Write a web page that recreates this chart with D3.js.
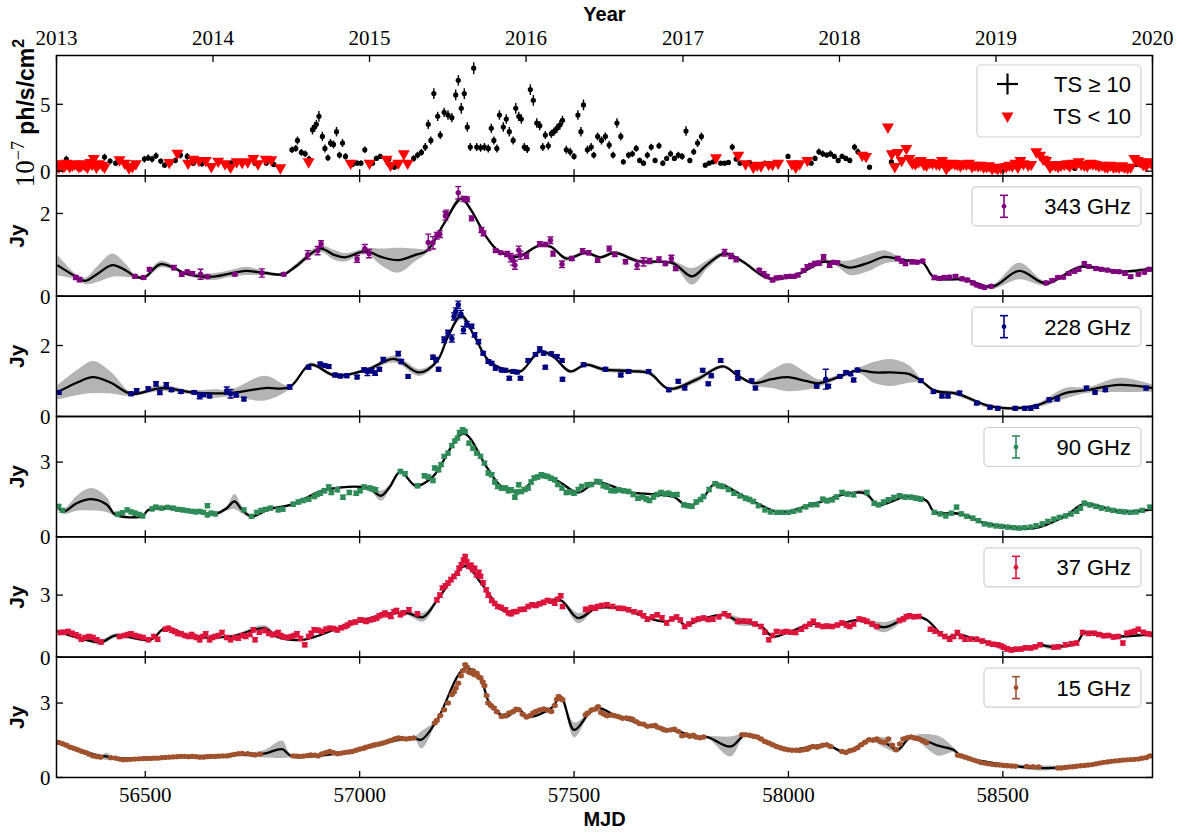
<!DOCTYPE html>
<html>
<head>
<meta charset="utf-8">
<script src="https://cdn.jsdelivr.net/npm/d3@7"></script>
<style>
  body { margin: 0; background: #fff; }
  svg { display: block; }
</style>
</head>
<body>
<div id="chart"></div>
<script>
// ---- tick values ----
const years = [2013, 2014, 2015, 2016, 2017, 2018, 2019, 2020];
const yearMJD = [56293, 56658, 57023, 57388, 57754, 58119, 58484, 58849];
const mjdTicks = [56500, 57000, 57500, 58000, 58500];

// ---- Fermi-LAT: detections [mjd, flux, err] and upper limits [mjd, flux] ----
const fermiDet = [[56316,0.9,0.25],[56405,1.05,0.25],[56418,0.75,0.2],[56431,0.6,0.2],[56498,0.9,0.25],[56507,1.0,0.25],[56516,0.9,0.25],[56525,1.15,0.25],[56536,0.75,0.2],[56545,0.45,0.2],[56558,0.6,0.2],[56570,0.8,0.2],[56582,1.2,0.25],[56598,1.1,0.25],[56612,0.6,0.2],[56632,0.55,0.2],[56700,0.6,0.2],[56756,0.6,0.2],[56782,0.6,0.2],[56800,0.5,0.2],[56842,1.6,0.25],[56851,1.7,0.25],[56855,2.3,0.3],[56864,1.4,0.25],[56873,1.3,0.25],[56882,0.9,0.25],[56890,3.1,0.35],[56895,3.3,0.35],[56899,3.5,0.35],[56905,4.1,0.4],[56913,2.6,0.35],[56919,1.7,0.3],[56926,1.0,0.25],[56932,2.1,0.3],[56939,2.0,0.3],[56946,2.95,0.35],[56953,1.2,0.25],[56960,2.1,0.3],[56967,1.1,0.25],[56983,0.5,0.2],[56994,0.6,0.2],[57003,0.6,0.2],[57012,1.6,0.25],[57030,0.6,0.2],[57039,0.95,0.2],[57048,1.1,0.2],[57068,0.9,0.2],[57081,0.3,0.2],[57126,0.95,0.25],[57135,1.2,0.25],[57144,1.4,0.25],[57153,1.8,0.3],[57160,3.5,0.35],[57166,2.3,0.3],[57173,5.8,0.4],[57182,4.1,0.35],[57188,2.7,0.3],[57197,4.4,0.35],[57206,4.2,0.35],[57215,4.0,0.35],[57224,5.7,0.4],[57230,6.8,0.4],[57237,4.7,0.4],[57244,5.8,0.4],[57251,3.3,0.35],[57258,1.8,0.3],[57266,7.7,0.45],[57273,1.8,0.3],[57282,1.75,0.3],[57291,1.8,0.3],[57300,1.7,0.3],[57307,3.2,0.35],[57313,2.3,0.3],[57320,1.7,0.3],[57326,4.2,0.35],[57335,3.3,0.35],[57342,3.9,0.35],[57349,2.95,0.35],[57358,2.3,0.3],[57364,4.7,0.4],[57371,4.1,0.35],[57377,3.9,0.35],[57384,1.8,0.3],[57391,1.65,0.3],[57398,6.1,0.4],[57405,5.3,0.4],[57413,3.6,0.35],[57420,3.4,0.35],[57427,1.8,0.3],[57433,2.7,0.3],[57440,1.9,0.3],[57447,2.8,0.3],[57453,2.95,0.3],[57460,3.2,0.35],[57467,3.45,0.35],[57473,3.8,0.35],[57482,1.6,0.3],[57491,1.45,0.3],[57500,1.1,0.25],[57509,4.2,0.35],[57516,2.95,0.35],[57522,4.95,0.4],[57531,1.6,0.3],[57540,1.8,0.3],[57546,1.2,0.25],[57555,2.6,0.3],[57564,2.3,0.3],[57573,2.6,0.3],[57582,1.95,0.3],[57591,1.2,0.25],[57600,3.6,0.35],[57609,2.6,0.3],[57615,0.7,0.2],[57627,1.2,0.25],[57636,1.3,0.25],[57645,1.7,0.25],[57653,0.8,0.2],[57662,0.6,0.2],[57671,1.2,0.25],[57680,1.8,0.25],[57689,0.8,0.2],[57698,1.9,0.25],[57707,0.6,0.2],[57716,0.95,0.2],[57725,1.3,0.25],[57734,0.95,0.2],[57743,1.2,0.25],[57752,1.1,0.25],[57761,3.0,0.35],[57770,0.8,0.2],[57779,1.45,0.25],[57788,2.1,0.3],[57797,2.6,0.3],[57806,0.45,0.15],[57815,0.6,0.15],[57824,0.7,0.15],[57842,0.6,0.15],[57851,0.6,0.15],[57860,0.65,0.15],[57869,1.8,0.25],[57878,0.9,0.2],[57887,0.6,0.15],[57909,0.65,0.15],[57945,0.6,0.15],[57999,1.1,0.2],[58053,0.6,0.15],[58062,0.95,0.2],[58071,1.45,0.25],[58080,1.3,0.25],[58089,1.2,0.2],[58098,1.3,0.25],[58107,1.1,0.2],[58116,0.8,0.2],[58125,1.1,0.2],[58134,0.95,0.2],[58143,0.8,0.2],[58154,1.8,0.25],[58162,1.45,0.25],[58189,0.3,0.15],[58240,0.7,0.2],[58602,0.6,0.15],[58668,0.2,0.1],[58812,0.5,0.15],[58843,0.5,0.15]];
const fermiUL = [[56298,0.3],[56301,0.45],[56305,0.55],[56308,0.35],[56312,0.4],[56316,0.6],[56320,0.5],[56324,0.35],[56330,0.45],[56335,0.55],[56340,0.5],[56345,0.35],[56350,0.4],[56355,0.55],[56360,0.45],[56365,0.3],[56372,0.65],[56376,0.5],[56380,0.95],[56386,0.3],[56392,0.55],[56400,0.45],[56405,0.3],[56440,0.85],[56452,0.6],[56462,0.25],[56470,0.35],[56478,0.55],[56556,0.65],[56575,1.35],[56600,0.6],[56612,0.9],[56625,0.8],[56641,0.8],[56654,0.35],[56670,0.75],[56686,0.55],[56699,0.3],[56713,0.7],[56726,0.65],[56739,0.7],[56752,0.95],[56763,0.55],[56781,0.9],[56794,0.85],[56815,0.25],[56881,0.7],[56979,0.6],[57023,0.6],[57063,0.9],[57072,0.45],[57090,0.6],[57103,1.3],[57112,0.6],[57831,1.0],[57883,1.2],[57900,0.55],[57918,0.3],[57927,0.45],[57936,0.4],[57954,0.5],[57963,0.5],[57976,0.6],[58008,0.55],[58017,0.3],[58026,0.55],[58044,0.8],[58172,1.2],[58181,1.1],[58232,3.3],[58241,1.3],[58248,0.35],[58255,1.4],[58264,0.8],[58275,1.7],[58282,0.95],[58289,0.6],[58296,0.55],[58303,0.7],[58309,0.8],[58316,0.5],[58322,0.45],[58329,0.65],[58336,0.6],[58345,0.55],[58352,0.5],[58358,0.8],[58362,0.6],[58368,0.2],[58375,0.45],[58381,0.6],[58388,0.55],[58394,0.5],[58401,0.4],[58408,0.55],[58415,0.5],[58421,0.6],[58428,0.35],[58435,0.45],[58442,0.4],[58448,0.45],[58455,0.3],[58462,0.35],[58468,0.4],[58475,0.2],[58482,0.3],[58488,0.2],[58495,0.25],[58502,0.3],[58508,0.35],[58515,0.45],[58522,0.4],[58529,0.6],[58535,0.3],[58541,0.8],[58548,0.55],[58559,0.45],[58566,0.5],[58578,1.45],[58587,1.2],[58594,0.9],[58601,0.8],[58610,0.3],[58616,0.5],[58622,0.45],[58629,0.35],[58636,0.45],[58643,0.5],[58650,0.55],[58656,0.4],[58663,0.6],[58670,0.55],[58677,0.7],[58683,0.5],[58690,0.45],[58697,0.4],[58704,0.6],[58710,0.55],[58717,0.5],[58724,0.4],[58731,0.45],[58738,0.35],[58744,0.3],[58751,0.45],[58758,0.3],[58764,0.35],[58771,0.3],[58778,0.4],[58784,0.3],[58791,0.25],[58798,0.3],[58807,0.95],[58814,0.8],[58820,0.7],[58827,0.5],[58834,0.4],[58840,0.7],[58846,0.6]];

// ---- radio light curves [mjd, Jy, err] ----
const pts343 = [[56338,0.45,0.05],[56347,0.4,0.05],[56476,0.48,0.04],[56496,0.45,0.04],[56510,0.65,0.04],[56567,0.69,0.05],[56585,0.53,0.05],[56598,0.59,0.04],[56610,0.55,0.04],[56629,0.53,0.12],[56645,0.47,0.04],[56709,0.53,0.04],[56772,0.56,0.1],[56823,0.53,0.04],[56879,1.0,0.1],[56902,1.1,0.1],[56910,1.26,0.08],[56994,0.9,0.08],[57012,1.15,0.1],[57022,1.03,0.1],[57160,1.3,0.2],[57171,1.29,0.15],[57180,1.46,0.08],[57187,1.5,0.08],[57200,1.94,0.1],[57202,2.0,0.08],[57230,2.5,0.15],[57244,2.35,0.06],[57251,2.34,0.06],[57261,1.88,0.06],[57284,1.6,0.06],[57289,1.52,0.06],[57317,1.1,0.04],[57329,1.05,0.04],[57344,1.02,0.06],[57352,0.93,0.1],[57358,0.87,0.12],[57362,0.75,0.1],[57371,1.11,0.1],[57375,0.99,0.1],[57389,0.97,0.06],[57420,1.26,0.06],[57433,1.25,0.05],[57445,1.35,0.08],[57451,1.03,0.06],[57472,0.77,0.08],[57495,0.91,0.05],[57520,1.09,0.06],[57534,1.05,0.05],[57555,0.87,0.05],[57582,1.15,0.06],[57595,1.01,0.05],[57620,0.83,0.05],[57647,0.75,0.1],[57662,0.83,0.1],[57676,0.85,0.06],[57698,0.89,0.06],[57713,0.79,0.05],[57727,0.91,0.08],[57737,0.67,0.05],[57851,1.05,0.08],[57866,0.97,0.06],[57878,0.89,0.06],[57932,0.63,0.04],[57942,0.55,0.04],[57950,0.48,0.04],[57963,0.39,0.04],[57972,0.44,0.04],[57981,0.45,0.04],[57995,0.47,0.04],[58004,0.48,0.04],[58013,0.48,0.04],[58022,0.51,0.04],[58035,0.62,0.04],[58044,0.71,0.05],[58053,0.74,0.05],[58062,0.79,0.05],[58072,0.8,0.05],[58082,0.94,0.06],[58096,0.75,0.05],[58105,0.82,0.04],[58114,0.81,0.04],[58255,0.91,0.05],[58264,0.85,0.05],[58273,0.79,0.05],[58288,0.83,0.05],[58300,0.82,0.04],[58313,0.85,0.04],[58340,0.45,0.05],[58352,0.43,0.04],[58363,0.45,0.04],[58376,0.46,0.04],[58390,0.48,0.04],[58405,0.42,0.04],[58417,0.39,0.04],[58430,0.32,0.04],[58439,0.27,0.04],[58448,0.24,0.04],[58457,0.21,0.04],[58473,0.24,0.04],[58601,0.32,0.04],[58615,0.38,0.04],[58628,0.45,0.04],[58641,0.46,0.04],[58654,0.55,0.04],[58667,0.6,0.04],[58677,0.65,0.04],[58690,0.79,0.04],[58700,0.72,0.04],[58717,0.67,0.04],[58730,0.65,0.04],[58744,0.63,0.04],[58758,0.6,0.04],[58771,0.59,0.04],[58785,0.55,0.04],[58798,0.47,0.04],[58816,0.53,0.04],[58830,0.58,0.04],[58841,0.65,0.04]];
const pts228 = [[56299,0.68,0.05],[56467,0.64,0.05],[56480,0.73,0.05],[56507,0.78,0.05],[56525,0.92,0.06],[56534,0.68,0.06],[56549,0.89,0.06],[56561,0.75,0.05],[56583,0.7,0.05],[56614,0.68,0.05],[56627,0.58,0.08],[56636,0.61,0.05],[56650,0.58,0.05],[56690,0.73,0.1],[56699,0.64,0.12],[56712,0.61,0.06],[56730,0.49,0.05],[56837,0.83,0.06],[56881,1.39,0.05],[56908,1.48,0.05],[56918,1.44,0.05],[56928,1.41,0.05],[56943,1.17,0.05],[56955,1.14,0.05],[56970,1.15,0.05],[56994,1.11,0.05],[57010,1.31,0.06],[57018,1.25,0.1],[57028,1.29,0.06],[57036,1.22,0.06],[57046,1.33,0.05],[57055,1.6,0.06],[57090,1.77,0.06],[57097,1.55,0.06],[57113,1.13,0.05],[57171,1.67,0.06],[57178,1.6,0.06],[57184,1.33,0.05],[57197,2.16,0.08],[57206,2.35,0.08],[57215,2.2,0.1],[57220,2.82,0.1],[57224,2.96,0.1],[57230,3.15,0.1],[57236,2.89,0.1],[57242,2.44,0.1],[57250,2.6,0.08],[57261,2.54,0.06],[57268,2.3,0.06],[57277,2.11,0.06],[57288,1.78,0.05],[57300,1.55,0.05],[57308,1.5,0.05],[57317,1.36,0.05],[57331,1.31,0.05],[57340,1.3,0.05],[57349,1.08,0.05],[57358,1.27,0.05],[57367,1.25,0.05],[57375,1.08,0.05],[57393,1.58,0.05],[57410,1.75,0.05],[57420,1.9,0.06],[57429,1.78,0.05],[57433,1.39,0.05],[57447,1.77,0.05],[57460,1.69,0.05],[57472,1.58,0.05],[57473,1.05,0.05],[57522,1.46,0.05],[57573,1.33,0.05],[57609,1.17,0.05],[57627,1.27,0.05],[57674,1.27,0.05],[57721,0.75,0.05],[57743,0.99,0.05],[57758,0.8,0.05],[57800,1.3,0.05],[57813,0.92,0.05],[57820,1.15,0.05],[57842,1.58,0.05],[57881,1.24,0.05],[57882,1.08,0.05],[57914,1.01,0.05],[57923,0.8,0.05],[58066,0.85,0.05],[58087,1.05,0.28],[58093,0.85,0.05],[58120,1.13,0.05],[58134,1.24,0.05],[58145,1.2,0.05],[58152,1.03,0.05],[58161,1.31,0.05],[58309,1.01,0.05],[58338,0.7,0.05],[58358,0.58,0.05],[58372,0.58,0.05],[58399,0.66,0.05],[58439,0.38,0.05],[58470,0.26,0.05],[58488,0.23,0.05],[58529,0.23,0.05],[58551,0.23,0.05],[58565,0.23,0.05],[58578,0.28,0.05],[58608,0.47,0.05],[58627,0.49,0.05],[58695,0.8,0.05],[58715,0.68,0.05],[58739,0.75,0.05],[58834,0.8,0.05]];
// dense series share one typical error bar
const err90 = 0.08, err37 = 0.1, err15 = 0.04;
const pts90 = [[56298,1.22],[56307,1.06],[56436,0.91],[56447,0.97],[56458,1.08],[56467,1.0],[56476,0.95],[56485,0.9],[56494,0.84],[56516,1.12],[56525,1.19],[56538,1.15],[56552,1.18],[56565,1.15],[56576,1.1],[56587,1.08],[56598,1.05],[56610,1.02],[56618,1.0],[56627,1.02],[56636,0.98],[56645,1.25],[56645,0.88],[56654,0.95],[56663,0.92],[56730,1.08],[56748,0.82],[56760,0.98],[56770,1.06],[56781,1.1],[56792,1.15],[56810,1.08],[56821,1.11],[56845,1.31],[56857,1.4],[56868,1.46],[56881,1.51],[56894,1.62],[56900,1.7],[56908,1.75],[56918,1.85],[56928,2.0],[56934,1.78],[56948,1.89],[56961,1.59],[56976,1.78],[56992,1.75],[57001,1.85],[57010,2.0],[57023,1.96],[57030,1.92],[57037,1.89],[57095,2.62],[57106,2.53],[57135,2.05],[57151,2.45],[57160,2.4],[57171,2.26],[57175,2.76],[57184,2.69],[57190,2.9],[57197,3.23],[57206,3.36],[57215,3.66],[57222,3.85],[57228,3.96],[57233,4.19],[57240,4.3],[57246,4.23],[57255,3.76],[57264,3.56],[57273,3.36],[57282,3.23],[57291,2.96],[57300,2.56],[57308,2.49],[57315,2.2],[57322,2.02],[57331,1.95],[57340,1.96],[57347,1.85],[57353,1.89],[57362,1.59],[57366,1.8],[57371,2.09],[57377,1.82],[57385,1.9],[57393,1.96],[57400,2.2],[57407,2.36],[57415,2.4],[57424,2.49],[57430,2.45],[57438,2.42],[57446,2.35],[57455,2.29],[57462,2.1],[57472,1.96],[57482,1.78],[57491,1.8],[57500,1.75],[57510,1.9],[57518,2.02],[57531,2.09],[57540,2.1],[57553,2.22],[57560,2.2],[57568,2.05],[57577,2.0],[57586,1.86],[57595,1.85],[57604,1.89],[57615,1.85],[57627,1.82],[57638,1.7],[57649,1.55],[57660,1.6],[57668,1.52],[57676,1.46],[57685,1.6],[57694,1.7],[57703,1.78],[57712,1.72],[57720,1.75],[57730,1.69],[57740,1.7],[57756,1.29],[57766,1.25],[57775,1.22],[57785,1.4],[57795,1.5],[57802,1.62],[57815,1.9],[57829,2.13],[57838,2.05],[57847,2.02],[57860,1.9],[57873,1.75],[57887,1.65],[57900,1.55],[57909,1.5],[57918,1.42],[57930,1.25],[57945,1.08],[57958,1.0],[57972,0.98],[57985,0.98],[57999,0.98],[58012,1.02],[58026,1.08],[58040,1.2],[58053,1.29],[58066,1.3],[58080,1.51],[58090,1.45],[58102,1.49],[58112,1.6],[58125,1.78],[58138,1.72],[58152,1.69],[58183,1.78],[58200,1.35],[58210,1.29],[58222,1.4],[58233,1.49],[58246,1.58],[58259,1.65],[58272,1.6],[58286,1.59],[58298,1.55],[58309,1.51],[58340,0.98],[58354,0.92],[58367,0.84],[58380,0.95],[58392,1.19],[58403,0.92],[58416,0.82],[58430,0.75],[58443,0.65],[58457,0.52],[58470,0.48],[58484,0.44],[58497,0.42],[58511,0.39],[58525,0.37],[58538,0.35],[58551,0.37],[58565,0.39],[58578,0.45],[58592,0.52],[58605,0.62],[58619,0.71],[58632,0.78],[58646,0.84],[58659,0.92],[58672,1.02],[58681,1.15],[58690,1.35],[58703,1.28],[58717,1.22],[58730,1.15],[58744,1.11],[58757,1.06],[58771,1.02],[58784,1.0],[58798,0.98],[58811,1.0],[58825,1.06],[58843,1.19]];
const pts37 = [[56302,1.19],[56311,1.2],[56320,1.24],[56329,1.15],[56338,1.08],[56345,1.0],[56351,0.87],[56360,0.95],[56369,1.0],[56378,0.95],[56387,0.84],[56397,0.73],[56440,1.0],[56452,1.05],[56460,1.1],[56467,1.13],[56476,1.05],[56485,1.0],[56495,0.95],[56507,0.84],[56520,1.0],[56529,0.87],[56547,1.35],[56554,1.4],[56562,1.3],[56569,1.24],[56576,1.15],[56583,1.13],[56592,1.05],[56601,1.0],[56608,1.1],[56614,1.0],[56620,0.95],[56627,0.84],[56634,1.0],[56641,1.13],[56650,0.84],[56656,0.95],[56663,1.0],[56671,1.05],[56679,1.19],[56690,0.95],[56699,0.84],[56708,0.95],[56717,0.92],[56726,1.05],[56734,1.0],[56744,1.1],[56752,1.32],[56756,0.84],[56766,1.2],[56779,1.29],[56788,1.15],[56797,1.08],[56804,1.12],[56810,1.19],[56816,1.05],[56823,0.97],[56832,0.95],[56841,1.0],[56848,1.05],[56854,1.13],[56862,0.9],[56872,0.6],[56881,1.0],[56887,1.15],[56894,1.32],[56903,1.3],[56912,1.24],[56921,1.35],[56930,1.4],[56939,1.38],[56948,1.32],[56957,1.42],[56966,1.48],[56972,1.55],[56979,1.65],[56990,1.7],[57001,1.81],[57008,1.78],[57015,1.73],[57024,1.8],[57032,1.84],[57040,1.9],[57046,2.0],[57053,2.05],[57059,2.13],[57066,2.05],[57073,1.97],[57080,2.2],[57086,2.26],[57095,2.05],[57102,2.15],[57115,2.29],[57135,2.1],[57180,2.77],[57187,3.0],[57193,3.34],[57200,3.45],[57206,3.58],[57213,3.75],[57220,3.9],[57228,4.06],[57232,4.3],[57237,4.47],[57242,4.7],[57246,4.87],[57250,4.6],[57255,4.39],[57260,4.45],[57264,4.23],[57268,4.3],[57273,3.98],[57278,4.1],[57282,3.9],[57288,3.6],[57295,3.26],[57300,3.0],[57308,2.74],[57315,2.6],[57322,2.45],[57330,2.4],[57340,2.29],[57347,2.15],[57353,2.1],[57360,2.2],[57366,2.21],[57375,2.3],[57384,2.32],[57393,2.45],[57402,2.53],[57411,2.5],[57420,2.58],[57429,2.65],[57438,2.74],[57447,2.7],[57455,2.61],[57462,2.8],[57469,2.97],[57473,2.45],[57527,2.32],[57532,2.29],[57540,2.4],[57549,2.37],[57555,2.45],[57565,2.5],[57577,2.53],[57590,2.45],[57604,2.37],[57615,2.35],[57627,2.29],[57640,2.2],[57654,2.13],[57662,2.0],[57671,1.84],[57683,1.95],[57694,2.05],[57705,1.9],[57716,1.65],[57728,1.85],[57739,1.94],[57748,1.8],[57758,1.48],[57768,1.6],[57779,1.77],[57790,1.85],[57802,1.89],[57813,1.82],[57824,1.84],[57838,1.95],[57851,2.1],[57860,2.0],[57882,1.73],[57896,1.75],[57909,1.73],[57922,1.6],[57936,1.48],[57945,1.2],[57954,0.84],[57963,1.05],[57972,1.24],[57985,1.2],[57995,1.24],[58006,1.2],[58017,1.19],[58030,1.35],[58040,1.48],[58050,1.6],[58058,1.73],[58068,1.55],[58080,1.48],[58090,1.5],[58102,1.48],[58114,1.55],[58125,1.65],[58135,1.55],[58143,1.48],[58152,1.6],[58165,1.84],[58175,1.8],[58183,1.73],[58195,1.6],[58206,1.48],[58259,1.77],[58268,1.85],[58275,1.95],[58282,2.0],[58292,1.95],[58304,1.97],[58331,1.35],[58342,1.25],[58354,1.13],[58365,1.0],[58376,0.87],[58385,1.0],[58394,1.19],[58403,1.0],[58412,0.87],[58425,0.88],[58439,0.87],[58452,0.78],[58466,0.68],[58477,0.62],[58488,0.6],[58495,0.55],[58502,0.48],[58510,0.4],[58520,0.35],[58530,0.38],[58542,0.39],[58553,0.45],[58565,0.44],[58576,0.5],[58587,0.6],[58619,0.48],[58630,0.5],[58646,0.6],[58660,0.65],[58672,0.68],[58686,1.19],[58700,1.15],[58713,1.16],[58724,1.1],[58735,1.03],[58746,1.05],[58758,0.97],[58769,1.0],[58780,0.68],[58789,1.16],[58800,1.2],[58808,1.25],[58816,1.35],[58827,1.2],[58838,1.13],[58848,1.1]];
const pts15 = [[56298,1.41],[56307,1.36],[56316,1.3],[56325,1.22],[56333,1.18],[56342,1.12],[56351,1.06],[56360,1.01],[56369,0.94],[56378,0.87],[56387,0.84],[56396,0.82],[56420,0.8],[56431,0.78],[56440,0.74],[56449,0.71],[56458,0.72],[56467,0.73],[56476,0.74],[56485,0.75],[56494,0.76],[56503,0.77],[56512,0.77],[56520,0.78],[56529,0.78],[56538,0.8],[56547,0.81],[56556,0.82],[56565,0.83],[56574,0.84],[56583,0.85],[56592,0.85],[56601,0.84],[56610,0.85],[56619,0.84],[56627,0.82],[56636,0.82],[56645,0.84],[56654,0.85],[56663,0.85],[56672,0.86],[56681,0.87],[56690,0.87],[56699,0.9],[56708,0.93],[56717,0.96],[56726,0.97],[56739,0.96],[56748,0.93],[56756,0.91],[56768,0.94],[56845,0.87],[56853,0.86],[56859,0.85],[56868,0.86],[56877,0.88],[56886,0.91],[56895,0.9],[56903,0.87],[56912,0.95],[56921,1.0],[56930,1.05],[56939,1.0],[56948,0.96],[56957,0.98],[56966,1.01],[56975,1.03],[56983,1.05],[56992,1.1],[57001,1.15],[57010,1.18],[57015,1.22],[57024,1.26],[57032,1.3],[57037,1.32],[57046,1.35],[57055,1.39],[57064,1.44],[57073,1.49],[57082,1.55],[57090,1.59],[57099,1.57],[57108,1.55],[57117,1.57],[57126,1.59],[57175,2.2],[57180,2.3],[57188,2.5],[57197,2.73],[57206,3.0],[57215,3.34],[57220,3.45],[57224,3.61],[57230,3.8],[57236,4.1],[57241,4.3],[57246,4.55],[57250,4.45],[57255,4.25],[57260,4.21],[57264,4.3],[57268,4.14],[57273,4.2],[57278,4.05],[57282,4.01],[57287,3.85],[57291,3.7],[57296,3.3],[57300,3.0],[57306,2.9],[57313,2.8],[57320,2.65],[57331,2.46],[57340,2.5],[57349,2.6],[57358,2.66],[57365,2.75],[57371,2.73],[57380,2.55],[57389,2.44],[57398,2.5],[57405,2.6],[57411,2.66],[57420,2.72],[57429,2.76],[57438,2.72],[57447,2.66],[57455,2.9],[57460,3.15],[57464,3.27],[57468,3.2],[57473,3.13],[57527,2.53],[57532,2.6],[57541,2.72],[57550,2.76],[57556,2.85],[57563,2.62],[57570,2.55],[57577,2.49],[57586,2.52],[57595,2.49],[57604,2.45],[57613,2.39],[57622,2.4],[57630,2.38],[57636,2.35],[57645,2.25],[57653,2.17],[57662,2.15],[57671,2.06],[57680,2.08],[57689,2.1],[57694,2.03],[57703,1.98],[57710,1.92],[57716,1.9],[57725,1.92],[57734,1.95],[57743,1.86],[57752,1.68],[57762,1.72],[57770,1.66],[57778,1.7],[57784,1.63],[57793,1.6],[57802,1.63],[57892,1.72],[57900,1.72],[57909,1.7],[57918,1.66],[57927,1.63],[57936,1.55],[57945,1.45],[57954,1.39],[57963,1.32],[57972,1.25],[57981,1.2],[57990,1.15],[57999,1.12],[58008,1.1],[58017,1.1],[58026,1.09],[58035,1.12],[58044,1.14],[58048,1.2],[58057,1.25],[58066,1.22],[58071,1.25],[58080,1.3],[58089,1.32],[58098,1.25],[58125,1.05],[58134,1.01],[58143,1.08],[58152,1.12],[58161,1.2],[58170,1.32],[58179,1.42],[58188,1.52],[58197,1.5],[58206,1.55],[58215,1.45],[58224,1.41],[58233,1.55],[58242,1.3],[58251,1.12],[58260,1.35],[58268,1.55],[58277,1.6],[58286,1.63],[58295,1.58],[58304,1.55],[58313,1.48],[58322,1.41],[58395,0.9],[58403,0.87],[58412,0.82],[58421,0.77],[58430,0.71],[58439,0.66],[58448,0.61],[58457,0.58],[58466,0.55],[58475,0.53],[58484,0.51],[58493,0.5],[58502,0.48],[58511,0.47],[58520,0.46],[58529,0.45],[58556,0.44],[58570,0.43],[58583,0.42],[58628,0.38],[58636,0.38],[58645,0.4],[58654,0.42],[58663,0.43],[58672,0.45],[58681,0.47],[58690,0.48],[58699,0.5],[58708,0.52],[58717,0.55],[58726,0.58],[58735,0.61],[58744,0.63],[58753,0.65],[58762,0.67],[58771,0.68],[58780,0.7],[58789,0.71],[58798,0.72],[58807,0.73],[58816,0.74],[58825,0.78],[58834,0.8],[58843,0.87]];

// ---- Gaussian-process fits [mjd, mean, half-width of band] ----
const gp343 = [[56295,0.75,0.25],[56342,0.45,0.05],[56360,0.37,0.08],[56390,0.55,0.2],[56423,0.75,0.28],[56455,0.62,0.15],[56476,0.48,0.04],[56498,0.45,0.04],[56534,0.77,0.08],[56570,0.67,0.05],[56592,0.55,0.04],[56654,0.47,0.08],[56700,0.55,0.08],[56734,0.61,0.1],[56780,0.56,0.05],[56823,0.53,0.04],[56850,0.71,0.06],[56908,1.15,0.08],[56940,1.0,0.12],[56966,0.94,0.1],[57015,1.09,0.07],[57050,0.95,0.2],[57090,0.87,0.3],[57130,1.0,0.15],[57157,1.1,0.05],[57197,1.76,0.05],[57237,2.36,0.08],[57260,2.08,0.05],[57295,1.44,0.04],[57322,1.11,0.04],[57366,0.95,0.04],[57420,1.23,0.04],[57447,1.19,0.04],[57482,0.91,0.05],[57527,1.05,0.04],[57561,0.94,0.04],[57595,1.05,0.04],[57649,0.85,0.05],[57730,0.8,0.05],[57775,0.48,0.2],[57811,0.77,0.1],[57851,1.03,0.05],[57891,0.85,0.04],[57954,0.43,0.04],[58017,0.51,0.04],[58080,0.83,0.04],[58110,0.8,0.06],[58143,0.69,0.18],[58190,0.82,0.2],[58224,0.95,0.16],[58268,0.87,0.04],[58313,0.81,0.04],[58340,0.45,0.04],[58412,0.4,0.04],[58475,0.23,0.05],[58538,0.61,0.2],[58601,0.31,0.05],[58681,0.71,0.04],[58771,0.59,0.04],[58850,0.67,0.05]];
const gp228 = [[56295,0.68,0.2],[56340,0.95,0.35],[56378,1.11,0.45],[56420,0.95,0.3],[56467,0.64,0.06],[56538,0.8,0.08],[56609,0.68,0.06],[56660,0.65,0.12],[56699,0.66,0.1],[56779,0.8,0.35],[56837,0.83,0.05],[56885,1.46,0.06],[56943,1.15,0.05],[57019,1.33,0.05],[57081,1.62,0.1],[57139,1.24,0.1],[57180,1.55,0.05],[57206,2.25,0.05],[57237,2.84,0.1],[57268,2.25,0.05],[57299,1.6,0.05],[57340,1.31,0.05],[57375,1.27,0.05],[57420,1.83,0.05],[57451,1.69,0.05],[57491,1.27,0.05],[57527,1.46,0.05],[57568,1.33,0.06],[57631,1.28,0.06],[57676,1.22,0.06],[57721,0.78,0.05],[57784,1.03,0.08],[57847,1.41,0.05],[57882,1.15,0.05],[57918,0.94,0.06],[57960,1.05,0.25],[57999,1.11,0.4],[58040,1.0,0.25],[58071,0.94,0.1],[58120,1.13,0.06],[58161,1.3,0.06],[58200,1.24,0.3],[58240,1.24,0.38],[58280,1.2,0.25],[58309,1.01,0.06],[58340,0.73,0.05],[58394,0.64,0.06],[58466,0.3,0.05],[58529,0.23,0.05],[58583,0.33,0.06],[58646,0.66,0.15],[58699,0.75,0.08],[58771,0.89,0.2],[58850,0.8,0.1]];
const gp90 = [[56295,1.22,0.1],[56310,1.02,0.1],[56340,1.35,0.3],[56374,1.51,0.45],[56410,1.3,0.3],[56431,0.88,0.05],[56494,0.84,0.05],[56507,1.08,0.05],[56565,1.15,0.04],[56663,0.92,0.05],[56690,1.15,0.1],[56708,1.42,0.3],[56725,1.1,0.15],[56748,0.82,0.05],[56790,1.12,0.05],[56841,1.29,0.05],[56921,1.89,0.05],[57019,1.96,0.05],[57050,1.65,0.2],[57070,2.0,0.1],[57095,2.62,0.08],[57131,2.05,0.05],[57171,2.42,0.05],[57242,4.14,0.05],[57295,2.83,0.05],[57331,2.02,0.05],[57375,1.82,0.05],[57420,2.49,0.05],[57464,2.22,0.05],[57509,1.78,0.05],[57553,2.18,0.05],[57631,1.78,0.05],[57694,1.7,0.05],[57734,1.59,0.05],[57766,1.22,0.08],[57802,1.59,0.05],[57829,2.13,0.05],[57918,1.42,0.05],[57981,0.98,0.05],[58053,1.29,0.05],[58143,1.75,0.05],[58179,1.75,0.1],[58210,1.29,0.05],[58277,1.62,0.05],[58322,1.45,0.05],[58340,1.0,0.05],[58403,0.92,0.05],[58457,0.55,0.05],[58502,0.42,0.05],[58574,0.35,0.05],[58646,0.84,0.05],[58690,1.32,0.05],[58771,1.02,0.05],[58850,1.1,0.05]];
const gp37 = [[56295,1.24,0.1],[56350,0.9,0.05],[56397,0.73,0.12],[56431,1.05,0.1],[56512,0.84,0.05],[56547,1.4,0.06],[56610,1.0,0.05],[56699,1.0,0.05],[56779,1.4,0.15],[56806,1.0,0.08],[56868,0.84,0.05],[56966,1.52,0.05],[57055,2.05,0.05],[57108,2.15,0.1],[57148,1.94,0.22],[57184,2.85,0.05],[57246,4.4,0.06],[57286,3.5,0.05],[57340,2.21,0.05],[57429,2.69,0.05],[57469,2.75,0.05],[57509,1.89,0.25],[57553,2.37,0.05],[57620,2.3,0.05],[57671,1.9,0.05],[57716,1.72,0.05],[57739,1.9,0.05],[57758,1.55,0.05],[57802,1.87,0.05],[57851,2.05,0.05],[57882,1.75,0.2],[57936,1.5,0.05],[57963,1.0,0.05],[58000,1.2,0.05],[58053,1.6,0.05],[58100,1.5,0.05],[58165,1.8,0.05],[58224,1.45,0.25],[58286,2.0,0.05],[58322,1.81,0.05],[58367,0.95,0.05],[58394,1.1,0.05],[58439,0.85,0.05],[58488,0.6,0.05],[58520,0.38,0.05],[58565,0.44,0.05],[58587,0.6,0.05],[58605,0.52,0.12],[58630,0.5,0.05],[58672,0.68,0.05],[58690,1.17,0.05],[58771,1.0,0.05],[58850,1.12,0.05]];
const gp15 = [[56295,1.41,0.05],[56396,0.87,0.05],[56409,0.85,0.15],[56431,0.78,0.04],[56699,0.91,0.04],[56777,0.96,0.15],[56819,1.14,0.35],[56841,0.87,0.05],[56966,1.01,0.04],[57055,1.39,0.04],[57126,1.59,0.04],[57144,1.52,0.35],[57180,2.3,0.05],[57246,4.41,0.05],[57282,3.95,0.05],[57304,2.95,0.05],[57340,2.46,0.1],[57371,2.73,0.05],[57393,2.44,0.05],[57447,2.8,0.05],[57469,3.25,0.05],[57500,1.92,0.3],[57536,2.6,0.05],[57556,2.8,0.04],[57600,2.47,0.04],[57650,2.2,0.04],[57700,2.0,0.04],[57745,1.85,0.04],[57784,1.63,0.04],[57811,1.63,0.05],[57865,1.25,0.4],[57900,1.72,0.05],[57954,1.39,0.04],[57999,1.12,0.04],[58089,1.3,0.04],[58134,1.01,0.08],[58188,1.52,0.05],[58224,1.41,0.2],[58255,1.12,0.1],[58286,1.63,0.05],[58349,1.28,0.4],[58385,1.12,0.1],[58403,0.87,0.04],[58538,0.44,0.08],[58601,0.38,0.1],[58681,0.47,0.04],[58850,0.87,0.05]];

// ---- layout ----
const W = 1184, H = 834;
const L = 56.5, R = 1152.5, TOP = 55.5, PH = 120.33;
const serif = "'Liberation Serif', 'Times New Roman', serif";
const sans = "'Liberation Sans', Arial, sans-serif";

const panels = [
    {ydom: [-0.35, 8.65], yt: [0, 5]},
    {ydom: [0, 2.91], yt: [0, 2], color: '#800080', name: '343 GHz', pts: pts343, gp: gp343, legX: 972},
    {ydom: [0, 3.39], yt: [0, 2], color: '#000080', name: '228 GHz', pts: pts228, gp: gp228, legX: 972},
    {ydom: [0, 4.83], yt: [0, 3], color: '#2e8b57', name: '90 GHz', pts: pts90, gp: gp90, err: err90, legX: 984},
    {ydom: [0, 5.82], yt: [0, 3], color: '#dc143c', name: '37 GHz', pts: pts37, gp: gp37, err: err37, legX: 984},
    {ydom: [0, 4.85], yt: [0, 3], color: '#a0522d', name: '15 GHz', pts: pts15, gp: gp15, err: err15, legX: 984}
];

const svg = d3.select('#chart').append('svg')
    .attr('width', W).attr('height', H)
    .style('background', '#fff');

const x = d3.scaleLinear().domain([56293, 58849]).range([L, R]);
const tri = d3.symbol().type(d3.symbolTriangle).size(62);

panels.forEach((p, i) => {
    const top = TOP + i * PH, bot = top + PH;
    const y = d3.scaleLinear().domain(p.ydom).range([bot, top]);
    const g = svg.append('g');

    svg.append('clipPath').attr('id', 'clip' + i)
        .append('rect').attr('x', L).attr('y', top).attr('width', R - L).attr('height', PH);
    const plot = g.append('g').attr('clip-path', 'url(#clip' + i + ')');

    if (i === 0) {
        // detections with error bars
        plot.selectAll('line.e').data(fermiDet).enter().append('line')
            .attr('x1', d => x(d[0])).attr('x2', d => x(d[0]))
            .attr('y1', d => y(d[1] - d[2])).attr('y2', d => y(d[1] + d[2]))
            .attr('stroke', '#000').attr('stroke-width', 1.4);
        plot.selectAll('circle').data(fermiDet).enter().append('circle')
            .attr('cx', d => x(d[0])).attr('cy', d => y(d[1])).attr('r', 2.6)
            .attr('fill', '#000');
        // upper limits
        plot.selectAll('path.ul').data(fermiUL).enter().append('path')
            .attr('d', tri)
            .attr('transform', d => `translate(${x(d[0])},${y(d[1])}) rotate(180)`)
            .attr('fill', '#ff0000');
    } else {
        const band = d3.area()
            .x(d => x(d[0])).y0(d => y(d[1] - d[2])).y1(d => y(d[1] + d[2]))
            .curve(d3.curveCatmullRom);
        const line = d3.line().x(d => x(d[0])).y(d => y(d[1])).curve(d3.curveCatmullRom);
        plot.append('path').datum(p.gp).attr('d', band).attr('fill', '#b4b4b4');
        plot.append('path').datum(p.gp).attr('d', line)
            .attr('fill', 'none').attr('stroke', '#000').attr('stroke-width', 2.3);

        const e = d => d[2] !== undefined ? d[2] : p.err;
        const eb = plot.append('g').attr('stroke', p.color).attr('stroke-width', 1.4);
        p.pts.forEach(d => {
            const cx = x(d[0]), y0 = y(d[1] - e(d)), y1 = y(d[1] + e(d));
            eb.append('line').attr('x1', cx).attr('x2', cx).attr('y1', y0).attr('y2', y1);
            eb.append('line').attr('x1', cx - 3).attr('x2', cx + 3).attr('y1', y0).attr('y2', y0);
            eb.append('line').attr('x1', cx - 3).attr('x2', cx + 3).attr('y1', y1).attr('y2', y1);
        });
        plot.selectAll('circle').data(p.pts).enter().append('circle')
            .attr('cx', d => x(d[0])).attr('cy', d => y(d[1])).attr('r', 2.7)
            .attr('fill', p.color);
    }

    // frame
    g.append('rect').attr('x', L).attr('y', top).attr('width', R - L).attr('height', PH)
        .attr('fill', 'none').attr('stroke', '#000').attr('stroke-width', 1.5);

    // inward ticks
    const tk = g.append('g').attr('stroke', '#000').attr('stroke-width', 1.3);
    const topTicks = i === 0 ? yearMJD : mjdTicks;
    topTicks.forEach(m => tk.append('line').attr('x1', x(m)).attr('x2', x(m)).attr('y1', top).attr('y2', top + 6.5));
    mjdTicks.forEach(m => tk.append('line').attr('x1', x(m)).attr('x2', x(m)).attr('y1', bot).attr('y2', bot - 6.5));
    p.yt.forEach(v => {
        tk.append('line').attr('x1', L).attr('x2', L + 6.5).attr('y1', y(v)).attr('y2', y(v));
        tk.append('line').attr('x1', R).attr('x2', R - 6.5).attr('y1', y(v)).attr('y2', y(v));
        g.append('text').attr('x', L - 6).attr('y', y(v)).attr('dy', '0.35em')
            .attr('text-anchor', 'end').attr('font-family', serif).attr('font-size', 21)
            .text(v);
    });

    if (i > 0) {
        // y label
        g.append('text')
            .attr('transform', `translate(24,${(top + bot) / 2}) rotate(-90)`)
            .attr('text-anchor', 'middle').attr('font-family', sans)
            .attr('font-weight', 'bold').attr('font-size', 21).text('Jy');

        // legend
        const ly = top + 11, lh = 39, mid = ly + lh / 2;
        g.append('rect').attr('x', p.legX).attr('y', ly).attr('width', 1141 - p.legX).attr('height', lh)
            .attr('rx', 4).attr('fill', '#fff').attr('fill-opacity', 0.8)
            .attr('stroke', '#d0d0d0').attr('stroke-width', 1.2);
        const mx = p.legX + 32;
        const lg = g.append('g').attr('stroke', p.color).attr('stroke-width', 1.6);
        lg.append('line').attr('x1', mx).attr('x2', mx).attr('y1', mid - 11).attr('y2', mid + 11);
        lg.append('line').attr('x1', mx - 4).attr('x2', mx + 4).attr('y1', mid - 11).attr('y2', mid - 11);
        lg.append('line').attr('x1', mx - 4).attr('x2', mx + 4).attr('y1', mid + 11).attr('y2', mid + 11);
        g.append('circle').attr('cx', mx).attr('cy', mid).attr('r', 2.4).attr('fill', p.color);
        g.append('text').attr('x', 1131).attr('y', mid).attr('dy', '0.36em')
            .attr('text-anchor', 'end').attr('font-family', sans).attr('font-size', 22)
            .text(p.name);
    }
});

// Fermi y label: 10^-7 ph/s/cm^2
const fl = svg.append('text')
    .attr('transform', `translate(34,113) rotate(-90)`)
    .attr('text-anchor', 'middle').attr('font-size', 23);
fl.append('tspan').attr('font-family', serif).attr('font-size', 27).text('10');
fl.append('tspan').attr('font-family', serif).attr('font-size', 18).attr('dy', -10).text('−7');
fl.append('tspan').attr('font-family', sans).attr('font-weight', 'bold').attr('dy', 10).text(' ph/s/cm');
fl.append('tspan').attr('font-family', sans).attr('font-weight', 'bold').attr('font-size', 16).attr('dy', -10).text('2');

// Fermi legend
{
    const lx = 977, ly = 65, lw = 164, lh = 72;
    svg.append('rect').attr('x', lx).attr('y', ly).attr('width', lw).attr('height', lh)
        .attr('rx', 4).attr('fill', '#fff').attr('fill-opacity', 0.8)
        .attr('stroke', '#d0d0d0').attr('stroke-width', 1.2);
    const mx = 1007.5, y1 = 84, y2 = 116;
    svg.append('line').attr('x1', mx - 10.5).attr('x2', mx + 10.5).attr('y1', y1).attr('y2', y1)
        .attr('stroke', '#000').attr('stroke-width', 2.2);
    svg.append('line').attr('x1', mx).attr('x2', mx).attr('y1', y1 - 10.5).attr('y2', y1 + 10.5)
        .attr('stroke', '#000').attr('stroke-width', 2.2);
    svg.append('path').attr('d', tri)
        .attr('transform', `translate(${mx},${y2}) rotate(180)`).attr('fill', '#ff0000');
    [['TS ≥ 10', y1], ['TS < 10', y2]].forEach(([t, yy]) => {
        svg.append('text').attr('x', 1131).attr('y', yy).attr('dy', '0.36em')
            .attr('text-anchor', 'end').attr('font-family', sans).attr('font-size', 22).text(t);
    });
}

// top year axis labels
years.forEach((yr, k) => {
    svg.append('text').attr('x', x(yearMJD[k])).attr('y', 45)
        .attr('text-anchor', 'middle').attr('font-family', serif).attr('font-size', 21)
        .text(yr);
});
svg.append('text').attr('x', (L + R) / 2).attr('y', 21).attr('text-anchor', 'middle')
    .attr('font-family', sans).attr('font-weight', 'bold').attr('font-size', 20).text('Year');

// bottom MJD labels
const bottom = TOP + 6 * PH;
mjdTicks.forEach(m => {
    svg.append('text').attr('x', x(m)).attr('y', bottom + 25)
        .attr('text-anchor', 'middle').attr('font-family', serif).attr('font-size', 21)
        .text(m);
});
svg.append('text').attr('x', (L + R) / 2).attr('y', bottom + 49).attr('text-anchor', 'middle')
    .attr('font-family', sans).attr('font-weight', 'bold').attr('font-size', 20).text('MJD');
</script>
</body>
</html>
